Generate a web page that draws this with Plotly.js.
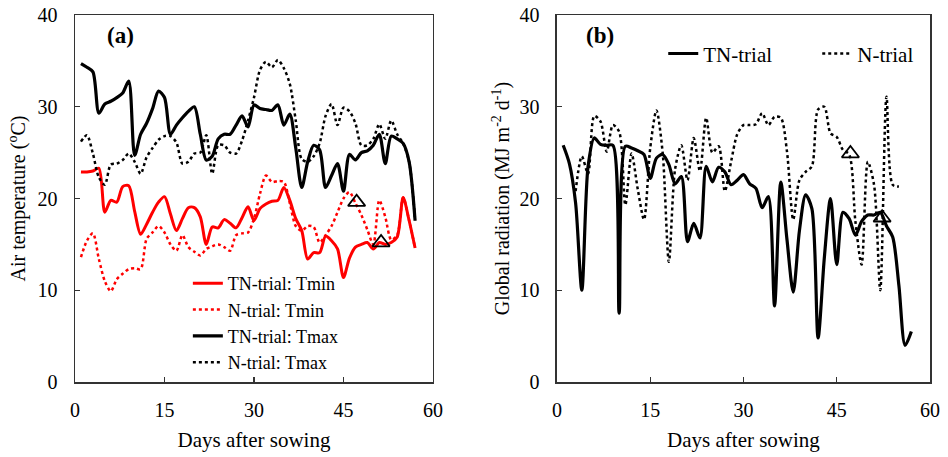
<!DOCTYPE html>
<html>
<head>
<meta charset="utf-8">
<script src="https://cdn.plot.ly/plotly-3.0.1.min.js"></script>
<style>html,body{margin:0;padding:0;background:#fff;}#chart{width:948px;height:457px;}</style>
</head>
<body>
<div id="chart"></div>
<script>
// ---- data ----
const days = [1,2,3,4,5,6,7,8,9,10,11,12,13,14,15,16,17,18,19,20,21,22,23,24,25,26,27,28,29,30,31,32,33,34,35,36,37,38,39,40,41,42,43,44,45,46,47,48,49,50,51,52,53,54,55,56,57];

const tnTmin = [22.9,22.9,23.0,23.3,18.5,19.8,19.6,21.3,21.4,18.6,
                16.1,17.2,18.5,19.6,20.2,18.3,16.5,17.8,19.0,19.0,
                18.0,15.0,16.9,16.8,17.7,17.3,16.8,17.9,19.1,17.6,
                18.9,19.4,19.7,19.8,21.2,19.8,17.8,16.5,13.4,14.1,
                14.1,15.9,15.4,14.5,11.4,13.5,14.7,15.0,15.2,14.5,
                15.2,15.0,15.2,15.8,20.1,17.6,14.6];
const nTmin  = [13.6,15.4,16.2,13.4,11.0,9.9,11.2,11.8,12.3,12.4,
                12.3,15.6,16.3,17.0,16.3,15.0,14.3,16.0,14.7,14.2,
                13.8,14.5,14.8,15.0,14.7,14.3,16.0,16.2,16.3,17.8,
                20.5,22.5,21.8,21.9,21.8,19.5,17.0,16.5,17.0,16.9,
                15.2,16.0,17.0,18.5,20.0,20.7,19.5,18.2,16.6,15.0,
                19.8,18.0,15.5,16.0,20.1,17.6,14.6];
const tnTmax = [34.7,34.3,33.8,29.3,30.3,30.6,31.0,31.5,32.8,24.7,
                27.0,28.2,29.8,31.7,31.0,27.0,28.0,28.8,29.5,30.0,
                27.0,24.2,24.6,26.5,27.0,27.0,28.0,29.0,27.8,30.2,
                29.8,29.7,29.6,30.2,28.0,29.2,25.5,21.2,24.0,25.8,
                25.3,21.2,22.5,23.8,20.8,24.8,24.2,25.0,25.2,25.8,
                27.0,23.8,26.8,26.5,26.0,24.0,17.6];
const nTmax  = [26.2,26.9,24.9,22.3,21.5,23.7,23.8,24.2,24.9,24.0,
                22.7,24.5,25.5,26.4,26.8,26.8,26.1,23.8,24.0,24.9,
                25.0,26.9,22.7,25.8,25.8,25.0,24.9,26.3,28.5,31.0,
                34.0,34.9,34.3,35.1,34.2,32.5,28.5,24.3,24.0,24.6,
                26.0,29.0,30.3,28.0,29.9,29.5,28.2,25.8,25.8,26.5,
                28.1,26.5,28.5,27.0,26.0,24.0,17.6];

const radDaysN = [3,4,5,6,7,8,9,10,11,12,13,14,15,16,17,18,19,20,21,22,23,24,25,26,27,28,29,30,31,32,33,34,35,36,37,38,39,40,41,42,43,44,45,46,47,48,49,50,51,52,53,54,55];
const tnRad = [25.8,23.8,19.5,10.0,23.5,26.6,25.9,25.8,25.8,7.5,
               25.7,25.5,25.2,24.8,22.2,24.4,24.8,23.7,21.6,22.4,
               15.3,17.3,15.7,23.5,21.8,23.4,22.9,21.5,22.0,22.6,
               21.6,21.1,19.0,20.2,8.3,21.8,15.5,9.8,16.5,20.4,
               18.9,4.8,13.5,20.0,12.8,18.5,17.8,16.0,17.5,18.2,
               18.2,18.5,17.0,15.8,10.5,4.0,5.5];
const nRad  = [20.8,24.6,22.7,29.0,28.4,25.1,28.0,27.3,19.3,24.9,
               21.0,17.7,25.5,29.6,25.0,13.1,23.2,25.8,22.0,26.6,
               23.0,28.8,25.0,25.7,20.8,24.0,27.0,28.0,28.0,28.1,
               29.3,28.0,28.9,28.8,25.1,17.7,22.0,22.9,23.5,29.7,
               30.0,27.1,26.7,25.3,24.8,17.5,12.8,24.0,21.5,10.0,
               31.1,21.5,21.3];

// triangle marks
const triTempDays = [47.2, 51.3];
const triTempVals = [19.6, 15.2];
const triRadDays  = [47.2, 52.3];
const triRadVals  = [24.9, 17.9];

const legendNames = ['TN-trial: Tmin','N-trial: Tmin','TN-trial: Tmax','N-trial: Tmax'];
const radNames = ['TN-trial','N-trial'];

// ---- chart ----
const FONT = 'Liberation Serif, Times New Roman, serif';
const RED = '#ff0000';
const BLK = '#000000';

function line(x, y, name, color, dash, width, xa, ya, leg, rank) {
  return {x: x, y: y, name: name, type: 'scatter', mode: 'lines',
    xaxis: xa, yaxis: ya, legend: leg, legendrank: rank,
    line: {color: color, dash: dash, width: width, shape: 'spline', smoothing: 0.8},
    hoverinfo: 'skip'};
}

const traces = [
  line(days, tnTmin, legendNames[0], RED, 'solid', 3, 'x', 'y', 'legend', 1),
  line(days, nTmin, legendNames[1], RED, 'dot', 2.5, 'x', 'y', 'legend', 2),
  line(days, nTmax, legendNames[3], BLK, 'dot', 2.5, 'x', 'y', 'legend', 4),
  line(days, tnTmax, legendNames[2], BLK, 'solid', 3.2, 'x', 'y', 'legend', 3),
  {x: triTempDays, y: triTempVals, type: 'scatter', mode: 'markers', xaxis: 'x', yaxis: 'y',
   showlegend: false, hoverinfo: 'skip',
   marker: {symbol: 'triangle-up-open', size: 15, color: BLK, line: {width: 1.8, color: BLK}}},
  line(days, tnRad, radNames[0], BLK, 'solid', 3.2, 'x2', 'y2', 'legend2', 1),
  line(radDaysN, nRad, radNames[1], BLK, 'dot', 2.5, 'x2', 'y2', 'legend2', 2),
  {x: triRadDays, y: triRadVals, type: 'scatter', mode: 'markers', xaxis: 'x2', yaxis: 'y2',
   showlegend: false, hoverinfo: 'skip',
   marker: {symbol: 'triangle-up-open', size: 15, color: BLK, line: {width: 1.8, color: BLK}}}
];

const axisCommon = {
  showline: true, mirror: true, linecolor: '#333', linewidth: 1.5,
  ticks: 'inside', ticklen: 5, tickwidth: 1.2, tickcolor: '#333',
  showgrid: false, zeroline: false,
  tickfont: {family: FONT, size: 20, color: '#000'}
};
const xAxisExtra = {range: [0, 60], tickvals: [0,15,30,45,60], ticklabelstandoff: 9,
  title: {text: 'Days after sowing', font: {family: FONT, size: 21, color: '#000'}, standoff: 13}};
const yAxisExtra = {range: [0, 40], tickvals: [0,10,20,30,40], ticklabelstandoff: 12};

const layout = {
  width: 948, height: 457,
  margin: {l: 75, r: 18, t: 15, b: 75, autoexpand: false},
  paper_bgcolor: '#fff', plot_bgcolor: '#fff',
  font: {family: FONT, color: '#000'},
  xaxis: Object.assign({}, axisCommon, xAxisExtra, {domain: [0, 0.4187], anchor: 'y'}),
  yaxis: Object.assign({}, axisCommon, yAxisExtra, {anchor: 'x',
    title: {text: 'Air temperature (<sup>o</sup>C)', font: {family: FONT, size: 20, color: '#000'}, standoff: 6}}),
  xaxis2: Object.assign({}, axisCommon, xAxisExtra, {domain: [0.5637, 1], anchor: 'y2'}),
  yaxis2: Object.assign({}, axisCommon, yAxisExtra, {anchor: 'x2',
    title: {text: 'Global radiation (MJ m<sup>-2</sup> d<sup>-1</sup>)', font: {family: FONT, size: 20, color: '#000'}, standoff: 4}}),
  legend: {x: 0.132, y: 0.319, xanchor: 'left', yanchor: 'top', bgcolor: 'rgba(0,0,0,0)',
    font: {family: FONT, size: 18, color: '#000'}, tracegroupgap: 0, traceorder: 'normal'},
  legend2: {x: 0.688, y: 0.95, xanchor: 'left', yanchor: 'top', orientation: 'h', bgcolor: 'rgba(0,0,0,0)',
    font: {family: FONT, size: 21, color: '#000'}, entrywidth: 109, entrywidthmode: 'pixels'},
  annotations: [
    {text: '<b>(a)</b>', xref: 'x domain', yref: 'y domain', x: 0.126, y: 0.945, xanchor: 'center', yanchor: 'middle',
     showarrow: false, font: {family: FONT, size: 23, color: '#000'}},
    {text: '<b>(b)</b>', xref: 'x2 domain', yref: 'y2 domain', x: 0.115, y: 0.945, xanchor: 'center', yanchor: 'middle',
     showarrow: false, font: {family: FONT, size: 23, color: '#000'}}
  ],
  showlegend: true
};

Plotly.newPlot('chart', traces, layout, {displayModeBar: false, staticPlot: true});
</script>
</body>
</html>
